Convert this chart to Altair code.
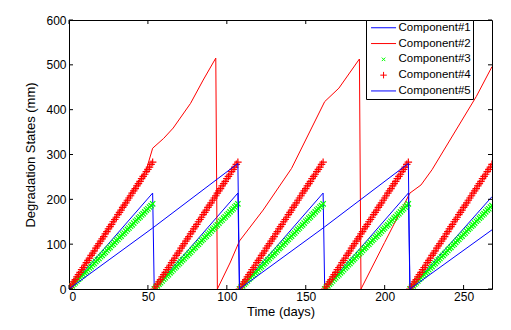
import altair as alt
import pandas as pd

comps = ["Component#1", "Component#2", "Component#3", "Component#4", "Component#5"]
colors = ["#0000ff", "#ff0000", "#00ff00", "#ff0000", "#0000ff"]

# Line components (time in days, degradation in mm)
c1_t = [0, 53, 54, 107, 108, 161, 162, 215, 216, 268]
c1_v = [0, 214, 0, 214, 0, 214, 0, 214, 0, 206]
c2_t = [0, 49, 53, 60, 66, 77, 85, 93, 94, 102, 108, 123, 141, 162, 171, 184, 185, 200, 216, 223, 230, 258, 268]
c2_v = [0, 266, 314, 336, 359, 414, 466, 515, 0, 58, 107, 176, 269, 418, 448, 513, 0, 104, 214, 232, 266, 429, 496]
c5_t = [0, 53, 107, 108, 161, 215, 216, 268]
c5_v = [0, 136, 280, 0, 136, 280, 0, 132]

# Marker components: daily values within one maintenance cycle
cycle_starts = [0, 54, 108, 162, 216]
t_end = 268
c3_cycle = [0, 4, 7, 11, 14, 18, 22, 25, 29, 32, 36, 39, 43, 47, 50, 54, 57, 61, 65, 68,
            72, 75, 79, 82, 86, 90, 93, 97, 100, 104, 108, 111, 115, 118, 122, 125, 129, 133, 136, 140,
            143, 147, 151, 154, 158, 161, 165, 168, 172, 176, 179, 183, 186, 190]
c4_cycle = [0, 5, 11, 16, 21, 27, 32, 37, 43, 48, 53, 59, 64, 69, 75, 80, 85, 91, 96, 101,
            107, 112, 117, 123, 128, 134, 139, 144, 150, 155, 160, 166, 171, 176, 182, 187, 192, 198, 203, 208,
            214, 219, 224, 230, 235, 240, 246, 251, 256, 262, 267, 272, 278, 283]

x_ticks = [0, 50, 100, 150, 200, 250]
y_ticks = [0, 100, 200, 300, 400, 500, 600]

W, H = 423, 269
TK = 4
FONT = "Liberation Sans"


def line_rows(name, ts, vs):
    return [{"comp": name, "t": t, "v": v, "i": i} for i, (t, v) in enumerate(zip(ts, vs))]


def marker_rows(name, cyc):
    rows = []
    for s in cycle_starts:
        for k, v in enumerate(cyc):
            if s + k <= t_end:
                rows.append({"comp": name, "t": s + k, "v": v})
    return rows


df1 = pd.DataFrame(line_rows(comps[0], c1_t, c1_v))
df2 = pd.DataFrame(line_rows(comps[1], c2_t, c2_v))
df5 = pd.DataFrame(line_rows(comps[4], c5_t, c5_v))
df3 = pd.DataFrame(marker_rows(comps[2], c3_cycle))
df4 = pd.DataFrame(marker_rows(comps[3], c4_cycle))
dfleg = pd.DataFrame({"comp": comps, "t": [-100] * 5, "v": [-100] * 5})
dfxt = pd.DataFrame({"t": x_ticks})
dfyt = pd.DataFrame({"v": y_ticks})

xs = alt.Scale(domain=[0, 268], nice=False, zero=False)
ys = alt.Scale(domain=[0, 600], nice=False)

plus_path = "M-1,0L1,0M0,-1L0,1"
x_path = "M-1,-1L1,1M-1,1L1,-1"
leg_shapes = [
    "M-0.54,0L4.46,0",
    "M-0.54,0L4.46,0",
    "M1.61,-0.35L2.31,0.35M1.61,0.35L2.31,-0.35",
    "M1.31,0L2.61,0M1.96,-0.65L1.96,0.65",
    "M-0.54,0L4.46,0",
]

ax_x = alt.Axis(orient="bottom", values=x_ticks, ticks=False, domain=False, grid=False,
                labelPadding=2, title="Time (days)", titlePadding=3)
ax_y = alt.Axis(orient="left", values=y_ticks, ticks=False, domain=False, grid=False,
                labelPadding=3, title="Degradation States (mm)", titlePadding=8)

X = alt.X("t:Q", scale=xs, axis=ax_x)
Y = alt.Y("v:Q", scale=ys, axis=ax_y)

line1 = alt.Chart(df1).mark_line(strokeWidth=1, color="#0000ff", clip=True).encode(x=X, y=Y, order="i:Q")
line2 = alt.Chart(df2).mark_line(strokeWidth=1, color="#ff0000", clip=True).encode(x=X, y=Y, order="i:Q")
m3 = alt.Chart(df3).mark_point(shape=x_path, size=28, filled=False, strokeWidth=1.2, opacity=1,
                               color="#00ff00", clip=True).encode(x=X, y=Y)
m4 = alt.Chart(df4).mark_point(shape=plus_path, size=56, filled=False, strokeWidth=1.2, opacity=1,
                               color="#ff0000", clip=True).encode(x=X, y=Y)
line5 = alt.Chart(df5).mark_line(strokeWidth=1, color="#0000ff", clip=True).encode(x=X, y=Y, order="i:Q")

# inward ticks on all four sides
tick_bottom = alt.Chart(dfxt).mark_rule(color="#000000", strokeWidth=1).encode(
    x=X, y=alt.value(H), y2=alt.value(H - TK))
tick_top = alt.Chart(dfxt).mark_rule(color="#000000", strokeWidth=1).encode(
    x=X, y=alt.value(0), y2=alt.value(TK))
tick_left = alt.Chart(dfyt).mark_rule(color="#000000", strokeWidth=1).encode(
    y=Y, x=alt.value(0), x2=alt.value(TK))
tick_right = alt.Chart(dfyt).mark_rule(color="#000000", strokeWidth=1).encode(
    y=Y, x=alt.value(W), x2=alt.value(W - TK))

leg = alt.Legend(
    orient="none", legendX=297, legendY=0, title=None, padding=2,
    strokeColor="#000000", fillColor="#ffffff", symbolSize=100, symbolStrokeWidth=1,
    labelFont=FONT, labelFontSize=11.5, labelColor="#000000", labelOffset=19,
    rowPadding=2.8, symbolOpacity=1)

legend_layer = alt.Chart(dfleg).mark_point(filled=False, opacity=1, strokeWidth=1, clip=True).encode(
    x=X, y=Y,
    color=alt.Color("comp:N", scale=alt.Scale(domain=comps, range=colors), legend=leg),
    shape=alt.Shape("comp:N", scale=alt.Scale(domain=comps, range=leg_shapes), legend=leg),
)

chart = alt.layer(
    line1, line2, m3, m4, line5, tick_bottom, tick_top, tick_left, tick_right, legend_layer
).properties(
    width=W, height=H,
    padding={"left": 69, "top": 20, "right": 19, "bottom": 41},
    autosize=alt.AutoSizeParams(type="none"),
    background="#ffffff",
).configure_view(
    stroke="#000000", strokeWidth=1
).configure_axis(
    labelFont=FONT, labelFontSize=12, labelColor="#000000",
    titleFont=FONT, titleFontSize=13, titleFontWeight="normal", titleColor="#000000",
)

chart.save("out.html", embed_options={"renderer": "svg", "actions": False})
